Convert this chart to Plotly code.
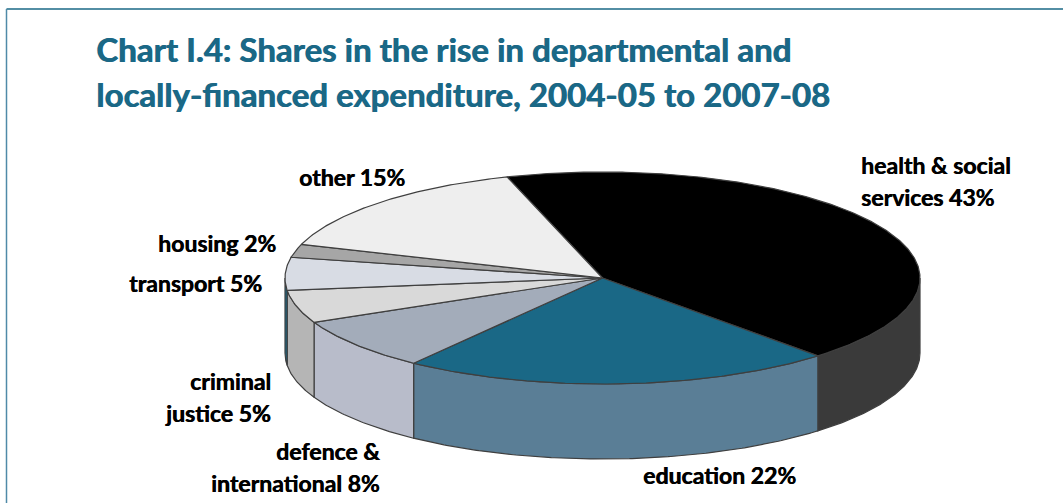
import numpy as np
import plotly.graph_objects as go

# Shares of the rise in expenditure, clockwise from the health slice
categories = ["health & social services", "education", "defence & international",
              "criminal justice", "transport", "housing", "other"]
shares = [43, 22, 8, 5, 5, 2, 15]
top_colors = ["#000000", "#1a6886", "#a3acba", "#d9d9d9", "#d8dce4", "#a6a6a6", "#eeeeee"]
side_colors = ["#3a3a3a", "#5a7e96", "#b8bcca", "#b5b5b5", "#1a6886", "#a6a6a6", "#eeeeee"]

label_lines = [
    ["health & social", "services 43%"],
    ["education 22%"],
    ["defence &", "international 8%"],
    ["criminal", "justice 5%"],
    ["transport 5%"],
    ["housing 2%"],
    ["other 15%"],
]
# Anchor of each label block: text edge, centre of its first row, and which edge it is
label_anchor = [
    (859, 165, "left"), (641, 475, "left"), (382, 451, "right"),
    (273, 381, "right"), (264, 283, "right"), (278, 243, "right"), (407, 177, "right"),
]
TITLE_LINES = ["Chart I.4: Shares in the rise in departmental and",
               "locally-financed expenditure, 2004-05 to 2007-08"]

TEAL = "#1a6886"
CX, CY, RX, RY, DEPTH = 602.5, 278, 317.5, 106, 75
START_DEG = -17.5
EDGE = "#3f3f3f"


def rim(a_deg, b_deg, drop=0.0):
    """Points on the elliptical rim between two clockwise-from-top angles."""
    t = np.radians(np.linspace(a_deg, b_deg, max(int(abs(b_deg - a_deg) * 2), 2)))
    return CX + RX * np.sin(t), CY - RY * np.cos(t) + drop


fig = go.Figure()
edges = START_DEG + np.cumsum([0] + shares) * 3.6

# Outer wall: only the front half of the drum is visible
for i in range(len(shares)):
    a, b = max(edges[i], 90), min(edges[i + 1], 270)
    if b <= a:
        continue
    x1, y1 = rim(a, b)
    x2, y2 = rim(b, a, DEPTH)
    fig.add_trace(go.Scatter(
        x=np.r_[x1, x2, x1[0]], y=np.r_[y1, y2, y1[0]], mode="lines", fill="toself",
        fillcolor=side_colors[i], line=dict(color=EDGE, width=1.2), hoverinfo="skip"))

# Top face slices
for i, name in enumerate(categories):
    x, y = rim(edges[i], edges[i + 1])
    fig.add_trace(go.Scatter(
        x=np.r_[CX, x, CX], y=np.r_[CY, y, CY], mode="lines", fill="toself",
        fillcolor=top_colors[i], line=dict(color=EDGE, width=1.2), name=name, hoverinfo="name"))

# A faint offset shadow thickens the bold face
notes = []
for lines, (x, y, side) in zip(label_lines, label_anchor):
    for k, line in enumerate(lines):
        notes.append(dict(x=x, y=y + k * 32, text=line, showarrow=False, xanchor=side, yanchor="middle",
                          font=dict(family="Lato", size=23, color="#000000", weight="bold",
                                    shadow="0.6px 0 0 #000000")))
for k, line in enumerate(TITLE_LINES):
    notes.append(dict(x=94, y=49 + k * 45, text=line, showarrow=False, xanchor="left", yanchor="middle",
                      font=dict(family="Lato", size=33, color=TEAL, weight="bold",
                                shadow="0.8px 0 0 " + TEAL)))

# Frame: rule along the top and down the left side
shapes = [
    dict(type="line", x0=6.5, x1=1063, y0=9, y1=9, line=dict(color=TEAL, width=1.5)),
    dict(type="line", x0=6.5, x1=6.5, y0=9, y1=503, line=dict(color="#4f8aa8", width=1.5)),
]

fig.update_layout(
    width=1063, height=503, margin=dict(l=0, r=0, t=0, b=0), showlegend=False,
    paper_bgcolor="white", plot_bgcolor="white", annotations=notes, shapes=shapes,
    xaxis=dict(range=[0, 1063], visible=False, fixedrange=True),
    yaxis=dict(range=[503, 0], visible=False, fixedrange=True),
)
fig.write_html("out.html", config={"displayModeBar": False})
